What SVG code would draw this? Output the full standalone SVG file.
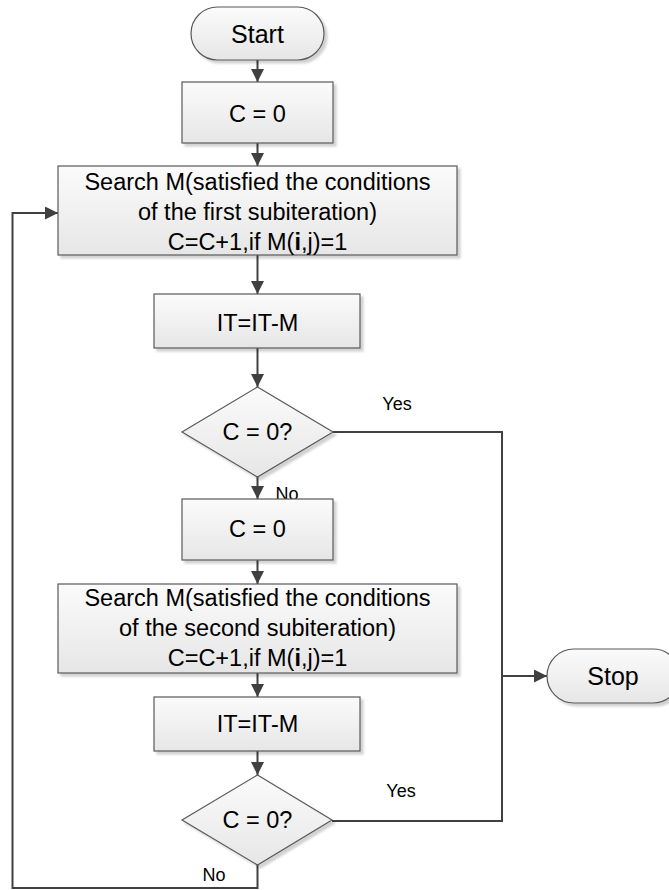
<svg xmlns="http://www.w3.org/2000/svg" width="669" height="890" viewBox="0 0 669 890">
<defs>
<linearGradient id="g" x1="0" y1="0" x2="0" y2="1">
<stop offset="0" stop-color="#fbfbfb"/>
<stop offset="1" stop-color="#e6e6e6"/>
</linearGradient>
<marker id="ah" markerWidth="13" markerHeight="13" refX="13" refY="6.5" orient="auto" markerUnits="userSpaceOnUse">
<path d="M0,0 L13,6.5 L0,13 z" fill="#404040"/>
</marker>
<filter id="sh" x="-10%" y="-10%" width="130%" height="130%">
<feOffset in="SourceAlpha" dx="3" dy="3" result="o"/>
<feGaussianBlur in="o" stdDeviation="1" result="b"/>
<feColorMatrix in="b" type="matrix" values="0 0 0 0 0  0 0 0 0 0  0 0 0 0 0  0 0 0 0.18 0" result="c"/>
<feMerge><feMergeNode in="c"/><feMergeNode in="SourceGraphic"/></feMerge>
</filter>
</defs>
<style>
.n{fill:url(#g);stroke:#595959;stroke-width:1.2;filter:url(#sh)}
.t{font-family:"Liberation Sans",Arial,sans-serif;font-size:23.5px;fill:#000;text-anchor:middle}
.l{font-family:"Liberation Sans",Arial,sans-serif;font-size:18px;fill:#000;text-anchor:middle}
.c{fill:none;stroke:#404040;stroke-width:2}
.a{marker-end:url(#ah)}
</style>
<rect width="669" height="890" fill="#fff"/>
<g id="connectors">
<line class="c a" x1="257.5" y1="60" x2="257.5" y2="82"/>
<line class="c a" x1="257.5" y1="143" x2="257.5" y2="166"/>
<line class="c a" x1="257.5" y1="255" x2="257.5" y2="294"/>
<line class="c a" x1="257.5" y1="348" x2="257.5" y2="387"/>
<line class="c a" x1="257.5" y1="477" x2="257.5" y2="499"/>
<line class="c a" x1="257.5" y1="560" x2="257.5" y2="584"/>
<line class="c a" x1="257.5" y1="673" x2="257.5" y2="697"/>
<line class="c a" x1="257.5" y1="751" x2="257.5" y2="775"/>
<polyline class="c" points="333,432 502,432 502,821 332,821"/>
<line class="c a" x1="502" y1="676" x2="547" y2="676"/>
<polyline class="c a" points="257.5,865 257.5,888 12.5,888 12.5,213 58,213"/>
<text class="l" x="397" y="410">Yes</text>
<text class="l" x="287" y="500">No</text>
<text class="l" x="401" y="797">Yes</text>
<text class="l" x="214" y="881">No</text>
</g>
<g id="start">
<rect class="n" x="191" y="7" width="133" height="53" rx="26.5"/>
<text class="t" x="257.5" y="43" style="font-size:25px">Start</text>
</g>
<g id="init1">
<rect class="n" x="182" y="82" width="151" height="61"/>
<text class="t" x="257.5" y="122">C = 0</text>
</g>
<g id="search1">
<rect class="n" x="58" y="166" width="399" height="89"/>
<text class="t" x="257.5" y="190">Search M(satisfied the conditions</text>
<text class="t" x="257.5" y="220">of the first subiteration)</text>
<text class="t" x="257.5" y="250">C=C+1,if M(<tspan font-weight="bold">i</tspan>,j)=1</text>
</g>
<g id="update1">
<rect class="n" x="154" y="294" width="206" height="54"/>
<text class="t" x="257.5" y="331">IT=IT-M</text>
</g>
<g id="decision1">
<polygon class="n" points="257.5,387 333,432 257.5,477 182,432"/>
<text class="t" x="257.5" y="440">C = 0?</text>
</g>
<g id="init2">
<rect class="n" x="182" y="499" width="151" height="61"/>
<text class="t" x="257.5" y="537">C = 0</text>
</g>
<g id="search2">
<rect class="n" x="58" y="584" width="399" height="89"/>
<text class="t" x="257.5" y="606">Search M(satisfied the conditions</text>
<text class="t" x="257.5" y="636">of the second subiteration)</text>
<text class="t" x="257.5" y="666">C=C+1,if M(<tspan font-weight="bold">i</tspan>,j)=1</text>
</g>
<g id="update2">
<rect class="n" x="154" y="697" width="206" height="54"/>
<text class="t" x="257.5" y="732">IT=IT-M</text>
</g>
<g id="decision2">
<polygon class="n" points="257.5,775 332,820 257.5,865 182,820"/>
<text class="t" x="257.5" y="828">C = 0?</text>
</g>
<g id="stop">
<rect class="n" x="547" y="649" width="133" height="54" rx="27"/>
<text class="t" x="613" y="685" style="font-size:25px">Stop</text>
</g>
</svg>
